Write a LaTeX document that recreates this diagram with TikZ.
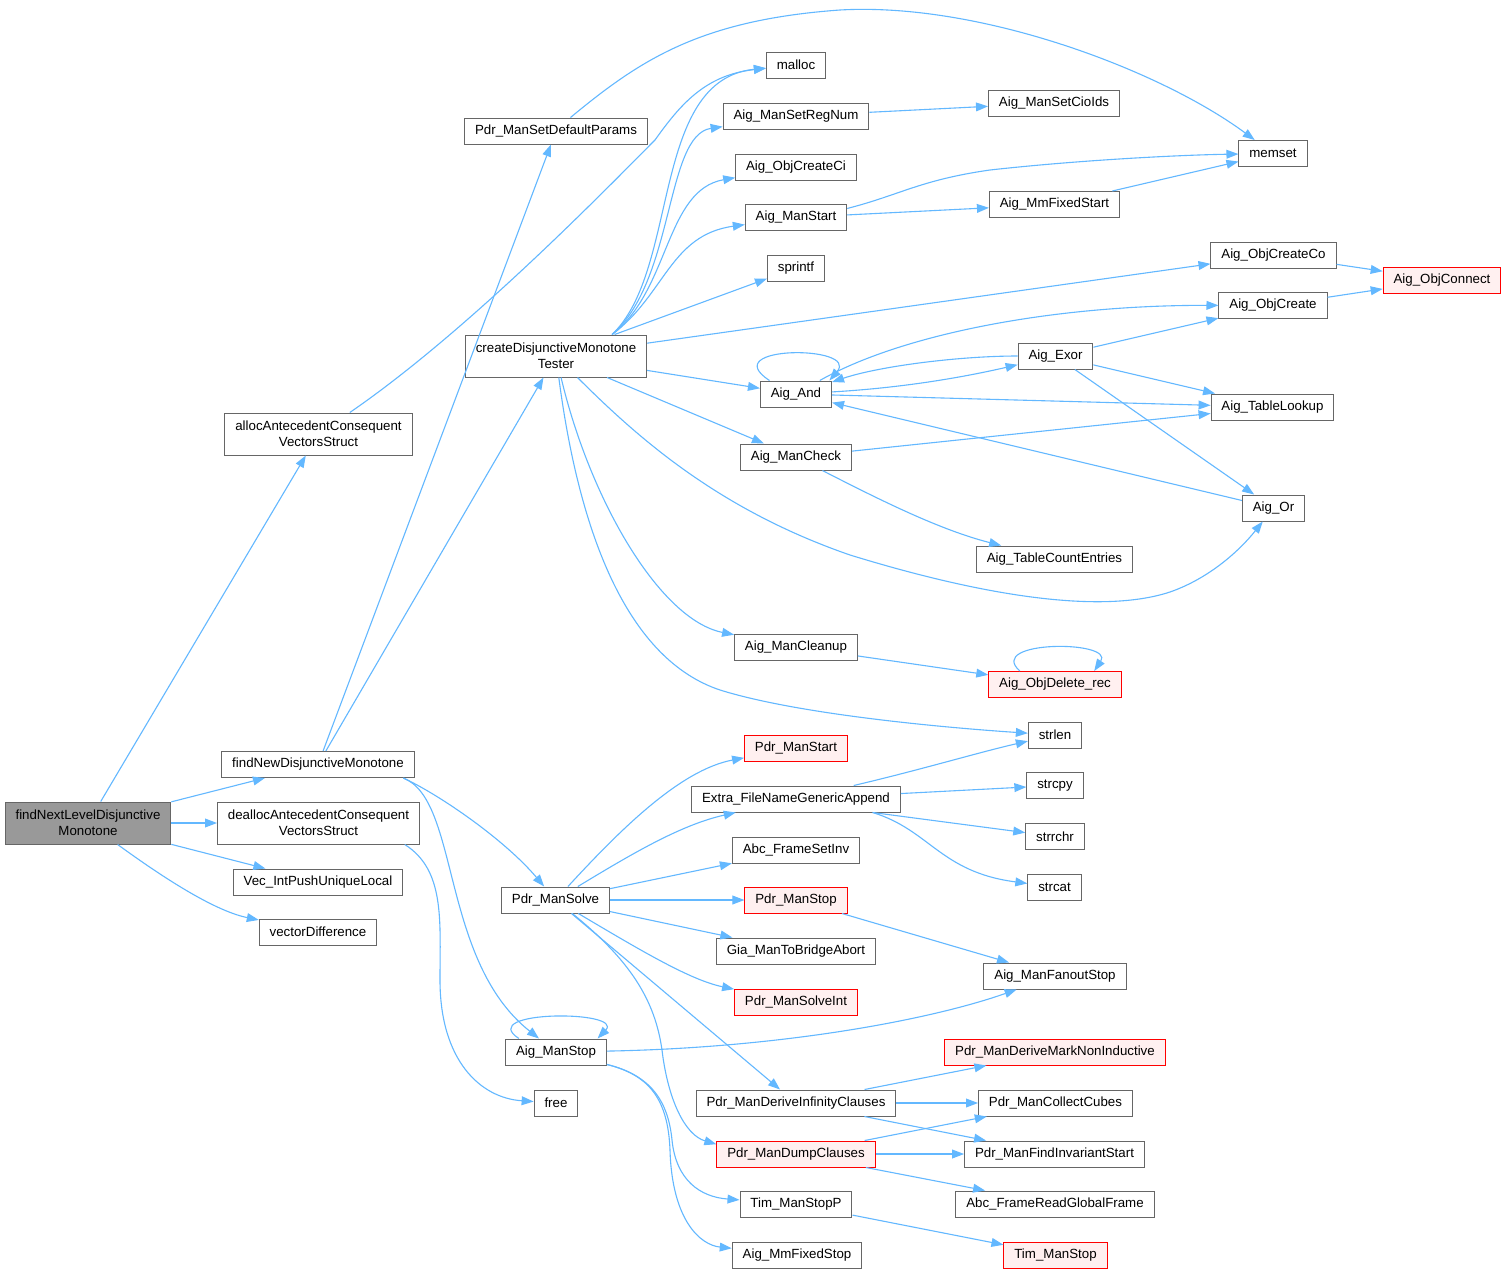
\documentclass[tikz,border=0pt]{standalone}
\usepackage{fontspec}
\setmainfont{Liberation Sans}
\usetikzlibrary{arrows.meta}
\definecolor{edgeblue}{HTML}{63B8FF}
\definecolor{boxgray}{HTML}{666666}
\definecolor{rootgray}{HTML}{999999}
\definecolor{redfill}{HTML}{FFF0F0}

\begin{document}
\begin{tikzpicture}[x=0.5pt,y=0.5pt,
        fn/.style={draw=boxgray,fill=white,line width=0.5pt,inner xsep=5.2pt,inner ysep=1pt,
            minimum height=13pt,font=\fontsize{6.65}{8}\selectfont,align=center},
        fntwo/.style={fn,minimum height=21pt},
        fnred/.style={fn,draw=red,fill=redfill},
        fnroot/.style={fntwo,fill=rootgray},
        call/.style={draw=edgeblue,line width=0.55pt,-{Triangle[length=6pt,width=4.4pt]}}]
        \fill[white] (0,0) rectangle (1505,-1274);

        \node[fnroot] (findNext) at (88,-823) {findNextLevelDisjunctive\\Monotone};
        \node[fntwo] (allocAVS) at (318.5,-434) {allocAntecedentConsequent\\VectorsStruct};
        \node[fn] (findNew) at (318,-764.5) {findNewDisjunctiveMonotone};
        \node[fntwo] (deallocAVS) at (318.5,-823) {deallocAntecedentConsequent\\VectorsStruct};
        \node[fn] (vecPush) at (318,-882) {Vec\_IntPushUniqueLocal};
        \node[fn] (vecDiff) at (318,-932) {vectorDifference};
        \node[fn] (pdrDefParams) at (556,-131) {Pdr\_ManSetDefaultParams};
        \node[fntwo] (createDMT) at (556,-356) {createDisjunctiveMonotone\\Tester};
        \node[fn] (pdrSolve) at (555.5,-900) {Pdr\_ManSolve};
        \node[fn] (aigManStop) at (556,-1052) {Aig\_ManStop};
        \node[fn] (freeFn) at (556,-1103) {free};
        \node[fn] (mallocFn) at (796,-65) {malloc};
        \node[fn] (aigSetRegNum) at (796,-116) {Aig\_ManSetRegNum};
        \node[fn] (aigCreateCi) at (796,-167) {Aig\_ObjCreateCi};
        \node[fn] (aigManStart) at (796,-217.5) {Aig\_ManStart};
        \node[fn] (sprintfFn) at (796,-268) {sprintf};
        \node[fn] (aigAnd) at (796,-394) {Aig\_And};
        \node[fn] (aigManCheck) at (796,-457) {Aig\_ManCheck};
        \node[fn] (aigCleanup) at (796,-647) {Aig\_ManCleanup};
        \node[fnred] (pdrStart) at (796,-748) {Pdr\_ManStart};
        \node[fn] (extraAppend) at (796,-799) {Extra\_FileNameGenericAppend};
        \node[fn] (abcSetInv) at (796,-850) {Abc\_FrameSetInv};
        \node[fnred] (pdrStop) at (796,-900) {Pdr\_ManStop};
        \node[fn] (giaAbort) at (796,-951) {Gia\_ManToBridgeAbort};
        \node[fnred] (pdrSolveInt) at (796,-1002) {Pdr\_ManSolveInt};
        \node[fn] (pdrDeriveInf) at (796,-1103) {Pdr\_ManDeriveInfinityClauses};
        \node[fnred] (pdrDump) at (796,-1154) {Pdr\_ManDumpClauses};
        \node[fn] (timStopP) at (796,-1204) {Tim\_ManStopP};
        \node[fn] (aigMmStop) at (797,-1255) {Aig\_MmFixedStop};
        \node[fn] (aigCioIds) at (1054,-103) {Aig\_ManSetCioIds};
        \node[fn] (memsetFn) at (1273,-153.5) {memset};
        \node[fn] (aigMmStart) at (1054.5,-204.5) {Aig\_MmFixedStart};
        \node[fn] (aigCreateCo) at (1273.5,-255) {Aig\_ObjCreateCo};
        \node[fn] (aigCreate) at (1273,-305.5) {Aig\_ObjCreate};
        \node[fnred] (aigConnect) at (1442,-280) {Aig\_ObjConnect};
        \node[fn] (aigExor) at (1055.5,-356) {Aig\_Exor};
        \node[fn] (aigLookup) at (1272.5,-407) {Aig\_TableLookup};
        \node[fn] (aigOr) at (1273.5,-508) {Aig\_Or};
        \node[fn] (aigCountEntries) at (1054.5,-559) {Aig\_TableCountEntries};
        \node[fnred] (aigDeleteRec) at (1055,-684.5) {Aig\_ObjDelete\_rec};
        \node[fn] (strlenFn) at (1055,-735) {strlen};
        \node[fn] (strcpyFn) at (1055,-785.5) {strcpy};
        \node[fn] (strrchrFn) at (1055,-836.5) {strrchr};
        \node[fn] (strcatFn) at (1054.5,-887) {strcat};
        \node[fn] (aigFanoutStop) at (1055,-976) {Aig\_ManFanoutStop};
        \node[fnred] (pdrMarkNonInd) at (1055,-1052) {Pdr\_ManDeriveMarkNonInductive};
        \node[fn] (pdrCollect) at (1055.5,-1103) {Pdr\_ManCollectCubes};
        \node[fn] (pdrFindInv) at (1054.5,-1154) {Pdr\_ManFindInvariantStart};
        \node[fn] (abcGlobalFrame) at (1055,-1204) {Abc\_FrameReadGlobalFrame};
        \node[fnred] (timStop) at (1055.5,-1255) {Tim\_ManStop};

        \draw[call] (findNext) -- (allocAVS);
        \draw[call] (findNext) -- (findNew);
        \draw[call] (findNext) -- (deallocAVS);
        \draw[call] (findNext) -- (vecPush);
        \draw[call] (findNext) .. controls (150,-868) and (210,-910) .. (vecDiff);
        \draw[call] (allocAVS) .. controls (470,-330) and (610,-185) .. (655,-140) .. controls (680,-105) and (705,-75) .. (mallocFn);
        \draw[call] (findNew) -- (pdrDefParams);
        \draw[call] (findNew) -- (createDMT);
        \draw[call] (findNew.-9) .. controls (440,-795) and (505,-840) .. (pdrSolve);
        \draw[call] (findNew.-9) .. controls (460,-800) and (440,-960) .. (aigManStop);
        \draw[call] (deallocAVS.-14) .. controls (445,-870) and (440,-920) .. (440,-980) .. controls (440,-1060) and (480,-1098) .. (freeFn);
        \draw[call] (pdrDefParams.43) .. controls (640,-60) and (700,-20) .. (840,-10) .. controls (980,-2) and (1160,-70) .. (memsetFn);

        \draw[call] (createDMT.21) .. controls (680,-270) and (650,-80) .. (mallocFn);
        \draw[call] (createDMT.21) .. controls (675,-280) and (665,-135) .. (aigSetRegNum);
        \draw[call] (createDMT.21) .. controls (670,-290) and (665,-190) .. (aigCreateCi);
        \draw[call] (createDMT.21) .. controls (665,-295) and (670,-235) .. (aigManStart);
        \draw[call] (createDMT) -- (sprintfFn);
        \draw[call] (createDMT) -- (aigCreateCo);
        \draw[call] (createDMT) -- (aigAnd);
        \draw[call] (createDMT) -- (aigManCheck);
        \draw[call] (createDMT) .. controls (640,-440) and (720,-510) .. (850,-555) .. controls (980,-595) and (1100,-615) .. (1170,-592) .. controls (1210,-578) and (1240,-550) .. (aigOr);
        \draw[call] (createDMT) .. controls (590,-500) and (660,-620) .. (aigCleanup);
        \draw[call] (createDMT) .. controls (580,-540) and (630,-660) .. (720,-690) .. controls (800,-715) and (950,-728) .. (strlenFn);

        \draw[call] (aigSetRegNum) -- (aigCioIds);
        \draw[call] (aigManStart.10) .. controls (900,-195) and (920,-180) .. (990,-170) .. controls (1080,-160) and (1180,-155) .. (memsetFn);
        \draw[call] (aigManStart) -- (aigMmStart);
        \draw[call] (aigMmStart) -- (memsetFn);
        \draw[call] (aigCreateCo) -- (aigConnect);
        \draw[call] (aigCreate) -- (aigConnect);

        \draw[call] (aigAnd.153) .. controls (715,-345) and (860,-345) .. (aigAnd.22);
        \draw[call] (aigAnd) .. controls (900,-388) and (960,-378) .. (aigExor);
        \draw[call] (aigExor) .. controls (960,-356) and (880,-366) .. (aigAnd);
        \draw[call] (aigAnd) .. controls (900,-335) and (1050,-305) .. (aigCreate);
        \draw[call] (aigAnd) -- (aigLookup);
        \draw[call] (aigExor) -- (aigCreate);
        \draw[call] (aigExor) -- (aigLookup);
        \draw[call] (aigExor) -- (aigOr);
        \draw[call] (aigOr) -- (aigAnd);
        \draw[call] (aigManCheck) -- (aigLookup);
        \draw[call] (aigManCheck) .. controls (880,-500) and (940,-530) .. (aigCountEntries);
        \draw[call] (aigCleanup) -- (aigDeleteRec);
        \draw[call] (aigDeleteRec.159) .. controls (985,-640) and (1115,-640) .. (aigDeleteRec.19);

        \draw[call] (extraAppend) .. controls (920,-770) and (980,-752) .. (strlenFn);
        \draw[call] (extraAppend) -- (strcpyFn);
        \draw[call] (extraAppend.-10) -- (strrchrFn);
        \draw[call] (extraAppend.-10) .. controls (930,-830) and (940,-872) .. (strcatFn);

        \draw[call] (pdrSolve) .. controls (620,-830) and (680,-770) .. (pdrStart);
        \draw[call] (pdrSolve) .. controls (630,-855) and (680,-825) .. (extraAppend);
        \draw[call] (pdrSolve) -- (abcSetInv);
        \draw[call] (pdrSolve) -- (pdrStop);
        \draw[call] (pdrSolve) -- (giaAbort);
        \draw[call] (pdrSolve) .. controls (640,-950) and (690,-980) .. (pdrSolveInt);
        \draw[call] (pdrSolve) -- (pdrDeriveInf);
        \draw[call] (pdrSolve) .. controls (630,-960) and (655,-1000) .. (662,-1050) .. controls (668,-1100) and (685,-1135) .. (pdrDump.173);
        \draw[call] (pdrStop) -- (aigFanoutStop);

        \draw[call] (aigManStop.160) .. controls (475,-1010) and (625,-1010) .. (aigManStop.18);
        \draw[call] (aigManStop) .. controls (780,-1048) and (930,-1020) .. (aigFanoutStop);
        \draw[call] (aigManStop) .. controls (650,-1075) and (668,-1100) .. (672,-1140) .. controls (676,-1180) and (700,-1197) .. (timStopP);
        \draw[call] (aigManStop) .. controls (650,-1075) and (668,-1100) .. (670,-1150) .. controls (672,-1220) and (700,-1245) .. (aigMmStop);

        \draw[call] (pdrDeriveInf) -- (pdrMarkNonInd);
        \draw[call] (pdrDeriveInf) -- (pdrCollect);
        \draw[call] (pdrDeriveInf) -- (pdrFindInv);
        \draw[call] (pdrDump) -- (pdrCollect);
        \draw[call] (pdrDump) -- (pdrFindInv);
        \draw[call] (pdrDump) -- (abcGlobalFrame);
        \draw[call] (timStopP) -- (timStop);
    \end{tikzpicture}
\end{document}
